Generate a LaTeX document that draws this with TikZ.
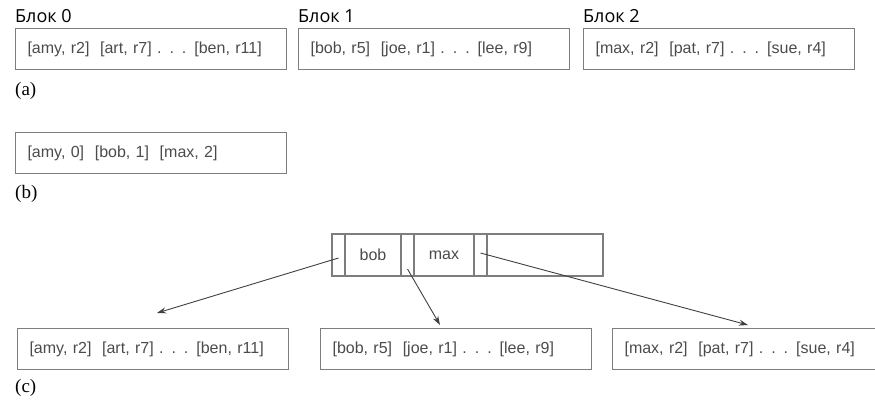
\documentclass[tikz,border=0pt]{standalone}
\usepackage{fontspec}
\setmainfont{Liberation Serif}
\setsansfont{Liberation Sans}
\newfontfamily\blokfont{Open Sans}
\usepackage{xcolor}
\usetikzlibrary{positioning, arrows.meta}
\definecolor{boxgray}{RGB}{125,125,125}
\definecolor{textgray}{RGB}{75,75,75}

\begin{document}
\begin{tikzpicture}[x=1pt, y=-1pt,
  rec/.style={draw=boxgray, line width=1.1pt, anchor=north west, minimum height=41pt,
    text width=247pt, inner xsep=12pt, align=left, text=textgray,
    font=\sffamily\fontsize{16}{18}\selectfont},
  cell/.style={draw=boxgray, line width=1.1pt, minimum height=42pt, inner sep=0pt,
    outer sep=0pt, text=textgray, font=\sffamily\fontsize{16}{18}\selectfont},
  blk/.style={anchor=base west, inner sep=0pt, font=\blokfont\fontsize{18}{20}\selectfont},
  tag/.style={anchor=base west, inner sep=0pt, font=\fontsize{19}{21}\selectfont},
  ptr/.style={draw=black!75, line width=0.9pt, -{Stealth[length=9pt, width=6pt]}}]
\useasboundingbox (0,0) rectangle (875,401);
\clip (0,0) rectangle (875,401);

% (a)
\node[rec] (a0) at (15,28) {[amy, r2]\ \ [art, r7] . . . [ben, r11]};
\node[rec] (a1) at (298,28) {[bob, r5]\ \ [joe, r1] . . . [lee, r9]};
\node[rec] (a2) at (583,28) {[max, r2]\ \ [pat, r7] . . . [sue, r4]};
\node[blk] (t0) at (15,23) {Блок 0};
\node[blk] (t1) at (298,23) {Блок 1};
\node[blk] (t2) at (583,23) {Блок 2};
\node[tag] (la) at (15,96) {(a)};

% (b)
\node[rec] (b0) at (15,132) {[amy, 0]\ \ [bob, 1]\ \ [max, 2]};
\node[tag] (lb) at (15,198) {(b)};

% (c)
\node[cell, minimum width=13pt, anchor=north west] (p0) at (332,234) {};
\node[cell, minimum width=56pt, right=0pt of p0] (k0) {bob};
\node[cell, minimum width=13pt, right=0pt of k0] (p1) {};
\node[cell, minimum width=60pt, right=0pt of p1] (k1) {max};
\node[cell, minimum width=13pt, right=0pt of k1] (p2) {};
\node[cell, minimum width=116pt, right=0pt of p2] (tail) {};

\node[rec] (c0) at (17,328) {[amy, r2]\ \ [art, r7] . . . [ben, r11]};
\node[rec] (c1) at (320,328) {[bob, r5]\ \ [joe, r1] . . . [lee, r9]};
\node[rec] (c2) at (612,328) {[max, r2]\ \ [pat, r7] . . . [sue, r4]};
\node[tag] (lc) at (15,392) {(c)};

\draw[ptr] ([yshift=-3pt]p0.center) -- ([shift={(140,-15)}]c0.north west);
\draw[ptr] ([yshift=-14pt]p1.center) -- ([shift={(120,-3)}]c1.north west);
\draw[ptr] ([yshift=2pt]p2.center) -- ([shift={(136,-3)}]c2.north west);
\end{tikzpicture}
\end{document}
